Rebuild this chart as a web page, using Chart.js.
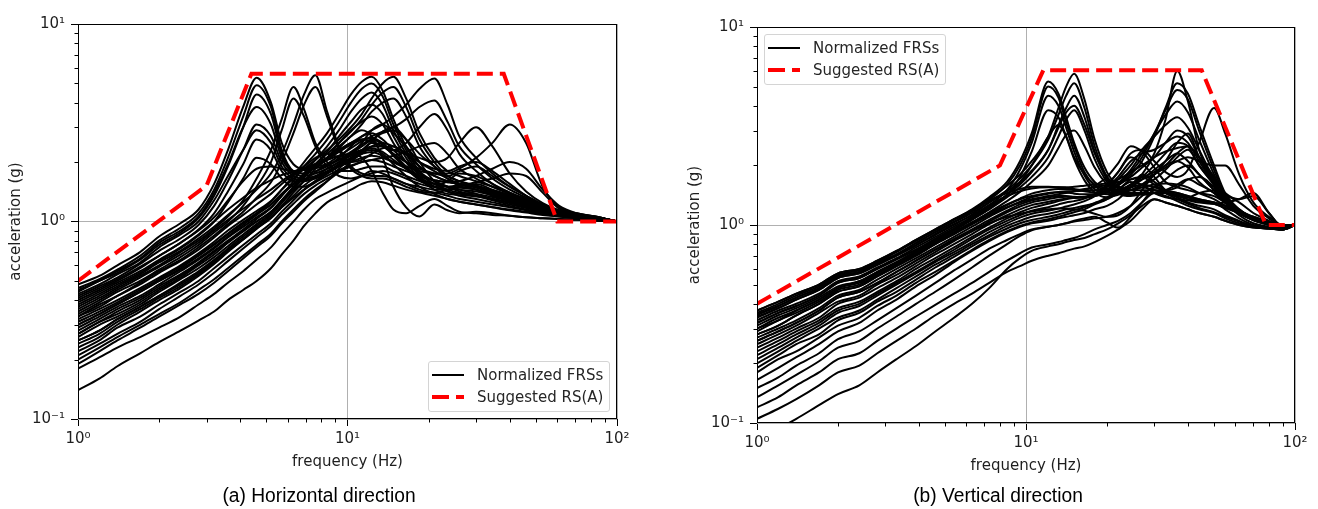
<!DOCTYPE html>
<html>
<head>
<meta charset="utf-8">
<script src="https://cdn.jsdelivr.net/npm/chart.js@4.4.1/dist/chart.umd.min.js"></script>
<style>
  body { margin: 0; background: #fff; width: 1318px; height: 509px; overflow: hidden; position: relative; font-family: "DejaVu Sans", sans-serif; }
  .panel { position: absolute; top: 0; height: 509px; }
  #panelA { left: 0; width: 660px; }
  #panelB { left: 660px; width: 658px; }
  .caption { position: absolute; top: 484px; font-family: "Liberation Sans", Arial, sans-serif; font-size: 20px; line-height: 22px; color: #000; white-space: nowrap; transform: translateX(-50%) scaleX(0.96); }
  .legend { position: absolute; box-sizing: border-box; border: 1px solid #d4d4d4; border-radius: 3px; background: rgba(255,255,255,0.85); width: 182px; height: 51px; }
  .legend .row { position: absolute; left: 3px; height: 18px; display: flex; align-items: center; font-size: 15px; color: #262626; white-space: nowrap; }
  .legend .row span { margin-left: 13px; }
</style>
</head>
<body>
<div class="panel" id="panelA"><canvas id="chartH" width="660" height="509"></canvas></div>
<div class="panel" id="panelB"><canvas id="chartV" width="658" height="509"></canvas></div>

<div class="legend" style="left:428px;top:361px;">
  <div class="row" style="top:4px;"><svg width="32" height="18"><line x1="0" y1="9" x2="32" y2="9" stroke="#000" stroke-width="2"/></svg><span>Normalized FRSs</span></div>
  <div class="row" style="top:26px;"><svg width="32" height="18"><line x1="0" y1="9" x2="32" y2="9" stroke="#ff0000" stroke-width="4" stroke-dasharray="17 7"/></svg><span>Suggested RS(A)</span></div>
</div>
<div class="legend" style="left:764px;top:34px;">
  <div class="row" style="top:4px;"><svg width="32" height="18"><line x1="0" y1="9" x2="32" y2="9" stroke="#000" stroke-width="2"/></svg><span>Normalized FRSs</span></div>
  <div class="row" style="top:26px;"><svg width="32" height="18"><line x1="0" y1="9" x2="32" y2="9" stroke="#ff0000" stroke-width="4" stroke-dasharray="17 7"/></svg><span>Suggested RS(A)</span></div>
</div>

<div class="caption" style="left:319px;">(a) Horizontal direction</div>
<div class="caption" style="left:998px;">(b) Vertical direction</div>

<script>
// ---- axis ticks ----
const X_TICKS = [1, 10, 100];
const X_TICK_LABELS = ['10\u2070', '10\u00b9', '10\u00b2'];
const Y_TICKS = [0.1, 1, 10];
const Y_TICK_LABELS = ['10\u207b\u00b9', '10\u2070', '10\u00b9'];
const X_MINOR = [2, 3, 4, 5, 6, 7, 8, 9, 20, 30, 40, 50, 60, 70, 80, 90];
const Y_MINOR = [0.2, 0.3, 0.4, 0.5, 0.6, 0.7, 0.8, 0.9, 2, 3, 4, 5, 6, 7, 8, 9];

// ---- (a) horizontal direction ----
const FREQ_H = [1, 1.2, 1.4, 1.7, 2, 2.4, 2.8, 3.2, 3.6, 4.1,
  4.6, 5.2, 5.7, 6.3, 6.9, 7.6, 8.4, 9.3, 10.3, 11.3,
  12.3, 13.5, 14.8, 16.5, 18.5, 21, 23.5, 26, 30, 34.5,
  40, 46, 53, 61, 71, 83, 100];

const FRS_H = [
  [0.48,0.53,0.60,0.70,0.84,0.98,1.15,1.55,2.30,3.80, 5.35,4.00,2.50,1.95,1.85,1.90,1.95,2.05,2.20,2.30, 2.35,2.25,2.05,1.85,1.65,1.55,1.50,1.45,1.38,1.30, 1.25,1.20,1.14,1.10,1.07,1.05,1.00],
  [0.46,0.51,0.57,0.67,0.80,0.93,1.10,1.45,2.10,3.40, 4.90,3.80,2.30,1.80,1.75,1.80,1.90,2.10,2.40,2.70, 2.80,2.60,2.30,2.00,1.75,1.60,1.50,1.42,1.35,1.28, 1.22,1.17,1.12,1.08,1.06,1.04,1.00],
  [0.44,0.50,0.55,0.64,0.76,0.88,1.04,1.35,1.90,3.00, 4.40,3.50,2.20,1.75,1.70,1.75,1.85,2.00,2.20,2.40, 2.60,2.80,2.90,2.60,2.20,1.90,1.70,1.60,1.50,1.40, 1.30,1.22,1.15,1.10,1.07,1.05,1.00],
  [0.42,0.47,0.52,0.61,0.71,0.82,0.96,1.20,1.60,2.30, 3.10,2.70,2.00,1.70,1.65,1.70,1.80,1.95,2.10,2.30, 2.50,2.40,2.20,2.00,1.85,1.75,1.70,1.80,1.90,1.70, 1.50,1.35,1.22,1.12,1.08,1.05,1.00],
  [0.40,0.45,0.50,0.58,0.67,0.78,0.91,1.10,1.42,1.95, 2.60,2.30,1.80,1.60,1.60,1.65,1.75,1.90,2.05,2.20, 2.40,2.50,2.40,2.20,2.00,1.85,1.80,1.90,2.00,1.80, 1.55,1.35,1.20,1.10,1.07,1.05,1.00],
  [0.38,0.43,0.48,0.55,0.63,0.73,0.85,1.00,1.25,1.65, 2.10,1.95,1.65,1.50,1.50,1.60,1.75,1.95,2.20,2.50, 2.90,3.10,2.80,2.40,2.00,1.80,1.65,1.55,1.45,1.35, 1.28,1.20,1.14,1.09,1.06,1.04,1.00],
  [0.36,0.41,0.46,0.53,0.60,0.70,0.80,0.92,1.06,1.28, 1.65,2.30,3.30,4.80,3.70,2.50,2.00,1.80,1.80,1.85, 1.90,1.90,1.80,1.70,1.60,1.50,1.45,1.50,1.55,1.45, 1.35,1.25,1.16,1.10,1.07,1.05,1.00],
  [0.34,0.39,0.44,0.50,0.57,0.66,0.76,0.88,1.00,1.20, 1.50,2.00,2.90,4.20,3.40,2.40,1.90,1.70,1.65,1.70, 1.75,1.80,1.75,1.65,1.55,1.50,1.60,1.75,1.70,1.55, 1.40,1.28,1.18,1.11,1.07,1.05,1.00],
  [0.37,0.42,0.47,0.54,0.62,0.71,0.82,0.94,1.08,1.25, 1.45,1.75,2.20,3.10,4.40,5.50,3.60,2.40,1.90,1.75, 1.70,1.70,1.65,1.55,1.50,1.45,1.45,1.50,1.45,1.38, 1.30,1.22,1.15,1.10,1.07,1.05,1.00],
  [0.33,0.38,0.42,0.49,0.56,0.64,0.74,0.85,0.97,1.12, 1.32,1.58,2.00,2.80,3.90,4.80,3.40,2.30,1.85,1.70, 1.65,1.65,1.60,1.50,1.42,1.40,1.45,1.55,1.50,1.40, 1.32,1.24,1.16,1.10,1.07,1.05,1.00],
  [0.30,0.34,0.38,0.44,0.50,0.58,0.67,0.76,0.86,0.98, 1.10,1.26,1.45,1.70,2.00,2.35,2.80,3.50,4.40,5.10, 5.40,4.60,3.30,2.40,1.90,1.70,1.60,1.55,1.50,1.40, 1.32,1.24,1.16,1.10,1.07,1.05,1.00],
  [0.28,0.32,0.36,0.41,0.47,0.54,0.62,0.71,0.80,0.91, 1.03,1.17,1.35,1.60,1.90,2.20,2.60,3.20,4.00,4.70, 5.00,4.30,3.10,2.30,1.80,1.60,1.50,1.45,1.42,1.36, 1.30,1.22,1.15,1.10,1.07,1.05,1.00],
  [0.26,0.30,0.33,0.38,0.44,0.51,0.58,0.66,0.75,0.86, 0.97,1.10,1.28,1.50,1.75,2.05,2.40,2.90,3.60,4.20, 4.50,3.90,2.90,2.20,1.75,1.55,1.45,1.40,1.38,1.33, 1.27,1.20,1.14,1.09,1.06,1.04,1.00],
  [0.25,0.28,0.32,0.37,0.42,0.49,0.56,0.64,0.73,0.84, 0.95,1.08,1.24,1.45,1.68,1.95,2.25,2.70,3.20,3.70, 3.90,3.50,2.70,2.10,1.70,1.50,1.42,1.38,1.35,1.30, 1.25,1.18,1.13,1.09,1.06,1.04,1.00],
  [0.23,0.26,0.30,0.35,0.40,0.46,0.53,0.61,0.70,0.81, 0.92,1.05,1.20,1.40,1.60,1.85,2.10,2.50,2.90,3.20, 3.40,3.10,2.50,2.00,1.65,1.45,1.38,1.36,1.34,1.30, 1.24,1.18,1.13,1.09,1.06,1.04,1.00],
  [0.32,0.36,0.40,0.46,0.52,0.60,0.69,0.79,0.90,1.02, 1.13,1.27,1.45,1.65,1.85,2.05,2.30,2.60,3.00,3.50, 4.20,5.00,5.40,4.20,2.80,2.10,1.80,1.70,1.60,1.50, 1.40,1.30,1.20,1.12,1.08,1.05,1.00],
  [0.29,0.33,0.37,0.42,0.48,0.56,0.64,0.73,0.83,0.94, 1.05,1.18,1.35,1.55,1.75,1.95,2.20,2.50,2.85,3.30, 3.90,4.50,4.80,3.80,2.60,2.00,1.70,1.60,1.52,1.44, 1.36,1.27,1.18,1.11,1.07,1.05,1.00],
  [0.27,0.31,0.34,0.39,0.45,0.52,0.60,0.68,0.78,0.89, 1.00,1.12,1.28,1.48,1.68,1.90,2.10,2.40,2.70,3.10, 3.60,4.00,4.20,3.40,2.40,1.90,1.65,1.55,1.48,1.40, 1.32,1.24,1.16,1.10,1.07,1.05,1.00],
  [0.31,0.35,0.39,0.45,0.51,0.59,0.68,0.77,0.87,0.99, 1.10,1.22,1.38,1.55,1.72,1.90,2.10,2.30,2.50,2.70, 2.90,3.10,3.40,3.90,4.70,5.30,3.90,2.70,2.10,1.75, 1.50,1.35,1.22,1.13,1.08,1.05,1.00],
  [0.27,0.31,0.35,0.40,0.46,0.53,0.61,0.70,0.79,0.90, 1.00,1.12,1.27,1.43,1.60,1.78,1.95,2.15,2.35,2.55, 2.70,2.85,3.00,3.30,3.80,4.10,3.20,2.40,1.95,1.65, 1.45,1.32,1.20,1.12,1.08,1.05,1.00],
  [0.24,0.27,0.31,0.36,0.41,0.47,0.54,0.62,0.71,0.81, 0.92,1.04,1.18,1.35,1.52,1.68,1.85,2.00,2.15,2.30, 2.40,2.40,2.30,2.20,2.10,2.00,2.10,2.50,3.00,2.40, 1.75,1.42,1.24,1.14,1.09,1.06,1.00],
  [0.22,0.25,0.29,0.33,0.38,0.44,0.50,0.58,0.66,0.76, 0.86,0.98,1.12,1.28,1.45,1.60,1.75,1.90,2.00,2.10, 2.15,2.10,2.00,1.90,1.80,1.75,1.75,1.85,2.10,2.50, 3.10,2.50,1.50,1.18,1.10,1.06,1.00],
  [0.21,0.24,0.27,0.31,0.36,0.42,0.48,0.55,0.63,0.73, 0.83,0.95,1.08,1.23,1.38,1.52,1.65,1.78,1.90,2.00, 2.05,2.00,1.90,1.80,1.70,1.62,1.58,1.60,1.70,1.85, 2.00,1.85,1.45,1.20,1.10,1.06,1.00],
  [0.35,0.40,0.45,0.52,0.59,0.68,0.78,0.90,1.02,1.16, 1.30,1.45,1.60,1.75,1.85,1.95,2.10,2.35,2.70,2.90, 2.70,2.10,1.50,1.18,1.06,1.22,1.14,1.10,1.12,1.10, 1.07,1.05,1.04,1.03,1.02,1.01,1.00],
  [0.33,0.37,0.42,0.48,0.55,0.63,0.72,0.83,0.95,1.08, 1.22,1.38,1.55,1.72,1.85,1.95,2.05,2.15,2.20,2.10, 1.80,1.40,1.15,1.10,1.20,1.30,1.20,1.12,1.10,1.08, 1.07,1.05,1.04,1.03,1.02,1.01,1.00],
  [0.14,0.16,0.185,0.215,0.245,0.28,0.315,0.35,0.40,0.45, 0.50,0.58,0.68,0.80,0.95,1.10,1.25,1.35,1.45,1.55, 1.60,1.58,1.52,1.45,1.40,1.35,1.30,1.26,1.22,1.18, 1.15,1.12,1.09,1.06,1.04,1.03,1.00],
  [0.18,0.205,0.23,0.26,0.29,0.33,0.38,0.43,0.49,0.56, 0.64,0.74,0.86,1.00,1.15,1.30,1.40,1.50,1.60,1.70, 1.80,1.75,1.65,1.55,1.45,1.40,1.35,1.30,1.26,1.22, 1.18,1.14,1.10,1.07,1.05,1.03,1.00],
  [0.20,0.23,0.26,0.30,0.34,0.39,0.45,0.51,0.58,0.67, 0.76,0.87,1.00,1.15,1.30,1.45,1.60,1.78,2.00,2.25, 2.55,2.85,3.00,2.60,2.00,1.60,1.42,1.35,1.30,1.25, 1.20,1.15,1.11,1.07,1.05,1.03,1.00],
  [0.19,0.22,0.25,0.29,0.33,0.38,0.43,0.49,0.56,0.65, 0.74,0.85,0.98,1.12,1.27,1.42,1.60,1.85,2.10,2.25, 2.30,2.20,1.95,1.70,1.50,1.38,1.30,1.26,1.22,1.18, 1.14,1.11,1.08,1.06,1.04,1.03,1.00],
  [0.45,0.50,0.56,0.65,0.78,0.90,1.06,1.40,1.95,3.00, 3.80,3.10,2.10,1.80,1.90,2.10,2.20,2.10,2.00,2.05, 2.20,2.35,2.40,2.20,1.90,1.70,1.60,1.55,1.50,1.42, 1.35,1.27,1.19,1.12,1.08,1.05,1.00],
  [0.41,0.46,0.51,0.59,0.67,0.78,0.90,1.05,1.28,1.60, 1.85,1.90,1.85,1.80,1.85,1.95,2.10,2.30,2.50,2.60, 2.55,2.40,2.30,2.50,3.00,3.50,2.90,2.20,1.80,1.55, 1.38,1.27,1.18,1.11,1.07,1.05,1.00],
  [0.30,0.34,0.38,0.44,0.50,0.57,0.65,0.74,0.84,0.96, 1.08,1.22,1.38,1.55,1.72,1.88,2.05,2.25,2.45,2.60, 2.65,2.50,2.20,1.90,1.65,1.55,1.50,1.52,1.58,1.65, 1.75,1.70,1.40,1.16,1.08,1.05,1.00],
  [0.43,0.48,0.54,0.62,0.74,0.86,1.00,1.28,1.70,2.30, 2.90,2.50,1.90,1.65,1.62,1.68,1.78,1.92,2.08,2.20, 2.25,2.15,2.00,1.85,1.70,1.62,1.58,1.55,1.50,1.42, 1.34,1.26,1.18,1.11,1.07,1.05,1.00],
  [0.39,0.44,0.49,0.56,0.64,0.74,0.86,1.00,1.15,1.32, 1.48,1.62,1.72,1.78,1.82,1.86,1.92,2.05,2.25,2.45, 2.60,2.45,2.15,1.85,1.62,1.50,1.45,1.48,1.45,1.38, 1.30,1.22,1.15,1.10,1.07,1.05,1.00],
  [0.25,0.28,0.32,0.37,0.42,0.48,0.55,0.63,0.72,0.82, 0.93,1.05,1.18,1.32,1.45,1.58,1.70,1.82,1.92,2.00, 2.05,2.10,2.15,2.25,2.40,2.50,2.20,1.85,1.65,1.50, 1.38,1.28,1.19,1.12,1.08,1.05,1.00]
];
const RS_H_FREQ = [1, 3, 4.4, 38, 60, 100];
const RS_H_ACC = [0.5, 1.52, 5.6, 5.6, 1.0, 1.0];

// ---- (b) vertical direction ----
const FREQ_V = [1, 1.2, 1.4, 1.7, 2, 2.4, 2.8, 3.3, 3.9, 4.6,
  5.4, 6.3, 7.3, 8.5, 9.5, 10.5, 12.1, 13.2, 14.1, 15.1,
  16.5, 18, 20, 22, 24.5, 27, 30, 33, 36.5, 40,
  44, 50, 55, 62, 70, 80, 90, 100];

const FRS_V = [
  [0.37,0.41,0.45,0.50,0.57,0.60,0.66,0.74,0.84,0.95, 1.07,1.20,1.38,1.65,2.10,2.90,5.30,4.60,3.50,2.60, 1.95,1.65,1.52,1.50,1.55,1.60,1.55,1.50,1.45,1.40, 1.35,1.30,1.25,1.18,1.10,1.04,1.00,1.00],
  [0.35,0.39,0.43,0.48,0.55,0.58,0.64,0.71,0.81,0.92, 1.04,1.17,1.34,1.60,2.00,2.75,5.00,4.40,3.30,2.50, 1.85,1.58,1.46,1.45,1.50,1.55,1.50,1.45,1.42,1.38, 1.33,1.28,1.22,1.15,1.08,1.03,0.98,1.00],
  [0.33,0.37,0.40,0.45,0.52,0.55,0.61,0.68,0.77,0.87, 0.98,1.10,1.26,1.50,1.90,2.60,4.50,4.00,3.10,2.35, 1.78,1.52,1.43,1.45,1.55,1.70,1.90,2.10,2.30,2.10, 1.80,1.50,1.30,1.15,1.07,1.02,0.98,1.00],
  [0.31,0.35,0.38,0.43,0.49,0.52,0.58,0.65,0.73,0.83, 0.94,1.06,1.21,1.42,1.75,2.35,3.80,3.50,2.80,2.15, 1.68,1.46,1.38,1.42,1.50,1.60,1.70,1.90,2.20,2.40, 2.00,1.60,1.35,1.18,1.08,1.02,0.97,1.00],
  [0.36,0.40,0.44,0.49,0.56,0.59,0.65,0.73,0.83,0.94, 1.06,1.19,1.36,1.58,1.80,2.10,2.80,3.90,5.00,5.80, 4.30,2.70,1.85,1.58,1.50,1.50,1.50,1.48,1.45,1.40, 1.35,1.30,1.25,1.18,1.10,1.04,1.00,1.00],
  [0.34,0.38,0.42,0.47,0.54,0.57,0.63,0.70,0.79,0.89, 1.00,1.13,1.30,1.50,1.72,2.00,2.70,3.60,4.50,5.20, 3.90,2.50,1.75,1.52,1.45,1.45,1.45,1.45,1.42,1.38, 1.32,1.28,1.22,1.15,1.08,1.03,0.99,1.00],
  [0.32,0.36,0.39,0.44,0.51,0.54,0.60,0.67,0.75,0.85, 0.96,1.08,1.23,1.42,1.60,1.85,2.40,3.20,3.90,4.50, 3.50,2.35,1.70,1.48,1.42,1.42,1.45,1.50,1.60,1.70, 1.60,1.45,1.30,1.17,1.08,1.03,0.98,1.00],
  [0.30,0.34,0.37,0.42,0.48,0.52,0.58,0.65,0.74,0.84, 0.95,1.07,1.20,1.38,1.55,1.75,2.20,2.80,3.40,3.80, 3.00,2.15,1.65,1.45,1.40,1.45,1.55,1.70,1.90,2.00, 1.80,1.50,1.30,1.15,1.07,1.02,0.97,1.00],
  [0.29,0.33,0.36,0.41,0.47,0.50,0.56,0.63,0.71,0.81, 0.92,1.03,1.16,1.32,1.47,1.65,2.00,2.45,2.85,3.00, 2.50,1.95,1.60,1.45,1.45,1.60,1.80,2.10,2.60,2.90, 2.20,1.60,1.30,1.14,1.06,1.01,0.97,1.00],
  [0.28,0.31,0.35,0.40,0.46,0.49,0.55,0.62,0.70,0.80, 0.90,1.01,1.13,1.26,1.36,1.44,1.50,1.52,1.52,1.50, 1.48,1.46,1.46,1.50,1.60,1.80,2.30,3.40,6.00,4.20, 2.40,1.60,1.30,1.15,1.06,1.01,0.97,1.00],
  [0.27,0.30,0.33,0.38,0.44,0.47,0.53,0.60,0.68,0.77, 0.87,0.98,1.10,1.22,1.31,1.38,1.44,1.46,1.46,1.44, 1.43,1.43,1.47,1.58,1.80,2.10,2.80,3.90,5.20,4.60, 3.20,2.00,1.45,1.20,1.08,1.02,0.97,1.00],
  [0.26,0.29,0.32,0.37,0.43,0.46,0.51,0.58,0.66,0.75, 0.85,0.95,1.06,1.18,1.27,1.33,1.38,1.40,1.40,1.39, 1.38,1.40,1.46,1.60,1.85,2.20,2.90,3.80,4.80,4.30, 3.00,1.90,1.40,1.18,1.07,1.01,0.96,1.00],
  [0.25,0.28,0.31,0.36,0.41,0.44,0.50,0.56,0.64,0.73, 0.83,0.93,1.04,1.16,1.24,1.30,1.35,1.38,1.39,1.38, 1.38,1.40,1.47,1.62,1.90,2.30,2.90,3.60,4.20,3.70, 2.70,1.80,1.38,1.17,1.07,1.01,0.96,1.00],
  [0.24,0.27,0.30,0.34,0.40,0.43,0.48,0.54,0.62,0.71, 0.80,0.90,1.01,1.12,1.20,1.26,1.31,1.34,1.36,1.37, 1.38,1.41,1.50,1.70,2.00,2.40,2.80,3.20,3.50,3.10, 2.40,1.70,1.35,1.16,1.06,1.00,0.96,1.00],
  [0.23,0.26,0.29,0.33,0.38,0.41,0.46,0.52,0.60,0.68, 0.77,0.87,0.97,1.08,1.16,1.22,1.28,1.32,1.35,1.37, 1.39,1.43,1.55,1.75,2.10,2.30,2.40,2.60,2.80,2.60, 2.10,1.60,1.32,1.15,1.06,1.00,0.96,1.00],
  [0.22,0.25,0.28,0.32,0.37,0.40,0.45,0.51,0.58,0.66, 0.75,0.85,0.95,1.05,1.12,1.18,1.23,1.27,1.30,1.32, 1.36,1.43,1.60,1.85,2.30,2.40,2.10,1.85,1.75,1.90, 2.60,3.90,2.90,1.80,1.30,1.10,1.00,1.00],
  [0.21,0.24,0.27,0.31,0.36,0.39,0.44,0.50,0.57,0.65, 0.73,0.82,0.92,1.02,1.09,1.14,1.18,1.21,1.24,1.27, 1.32,1.40,1.58,1.85,2.20,2.05,1.75,1.50,1.40,1.38, 1.45,1.50,1.42,1.30,1.15,1.05,0.98,1.00],
  [0.20,0.23,0.26,0.30,0.34,0.37,0.42,0.48,0.55,0.63, 0.71,0.80,0.89,0.99,1.05,1.10,1.14,1.17,1.20,1.22, 1.25,1.29,1.35,1.45,1.60,1.70,1.80,1.95,2.10,2.20, 2.10,2.00,2.00,1.60,1.25,1.08,0.98,1.00],
  [0.19,0.22,0.25,0.28,0.33,0.36,0.41,0.46,0.53,0.61, 0.69,0.78,0.87,0.96,1.02,1.06,1.10,1.13,1.16,1.19, 1.23,1.29,1.38,1.50,1.65,1.60,1.45,1.38,1.35,1.33, 1.30,1.28,1.30,1.35,1.45,1.15,0.98,1.00],
  [0.18,0.21,0.23,0.27,0.31,0.34,0.39,0.44,0.51,0.58, 0.66,0.75,0.84,0.93,0.99,1.03,1.07,1.10,1.13,1.16, 1.20,1.27,1.35,1.50,1.70,1.75,1.60,1.50,1.55,1.70, 1.75,1.55,1.30,1.12,1.02,0.98,0.95,1.00],
  [0.165,0.19,0.215,0.25,0.29,0.32,0.37,0.42,0.49,0.56, 0.65,0.74,0.83,0.92,0.98,1.02,1.05,1.08,1.10,1.12, 1.15,1.20,1.25,1.35,1.55,1.80,1.65,1.50,1.40,1.35, 1.32,1.30,1.20,1.08,1.00,0.97,0.95,1.00],
  [0.15,0.17,0.195,0.225,0.265,0.29,0.33,0.38,0.44,0.51, 0.59,0.67,0.76,0.84,0.90,0.95,0.98,1.00,1.02,1.05, 1.08,1.10,1.03,0.97,1.10,1.30,1.50,1.45,1.38,1.30, 1.25,1.20,1.12,1.05,0.98,0.96,0.95,1.00],
  [0.135,0.155,0.175,0.205,0.24,0.26,0.30,0.345,0.40,0.46, 0.53,0.61,0.70,0.80,0.88,0.94,0.98,1.00,1.02,1.04, 1.06,1.08,1.10,1.15,1.25,1.40,1.55,1.45,1.35,1.28, 1.22,1.16,1.10,1.04,0.99,0.97,0.96,1.00],
  [0.12,0.135,0.155,0.18,0.21,0.225,0.26,0.30,0.345,0.395, 0.45,0.51,0.58,0.66,0.72,0.77,0.80,0.82,0.84,0.86, 0.90,0.95,1.00,1.05,1.15,1.30,1.45,1.40,1.32,1.25, 1.20,1.15,1.08,1.02,0.98,0.96,0.95,1.00],
  [0.105,0.118,0.132,0.155,0.18,0.195,0.225,0.26,0.30,0.35, 0.40,0.45,0.51,0.58,0.62,0.66,0.70,0.72,0.74,0.76, 0.78,0.82,0.88,0.95,1.05,1.20,1.35,1.30,1.25,1.20, 1.15,1.10,1.05,1.00,0.97,0.96,0.95,1.00],
  [0.085,0.094,0.105,0.123,0.14,0.155,0.18,0.21,0.245,0.29, 0.34,0.40,0.48,0.60,0.68,0.74,0.78,0.80,0.82,0.84, 0.86,0.90,0.95,1.02,1.12,1.25,1.35,1.30,1.25,1.20, 1.15,1.10,1.05,1.00,0.97,0.96,0.95,1.00],
  [0.37,0.41,0.45,0.50,0.57,0.60,0.66,0.74,0.84,0.95, 1.07,1.19,1.33,1.45,1.52,1.56,1.56,1.55,1.55,1.56, 1.58,1.60,1.62,1.65,1.70,1.75,1.85,2.00,2.30,2.50, 2.20,1.75,1.40,1.20,1.08,1.02,0.98,1.00],
  [0.32,0.36,0.39,0.44,0.51,0.54,0.60,0.67,0.75,0.85, 0.96,1.08,1.23,1.42,1.65,2.00,2.80,3.20,2.80,2.20, 1.80,1.60,1.50,1.50,1.60,1.75,2.00,2.30,2.60,2.50, 2.00,1.60,1.35,1.18,1.08,1.02,0.97,1.00],
  [0.28,0.31,0.35,0.40,0.46,0.49,0.55,0.62,0.70,0.80, 0.90,1.01,1.12,1.23,1.30,1.35,1.40,1.43,1.45,1.48, 1.52,1.55,1.60,1.70,1.85,2.00,2.20,2.35,2.45,2.50, 2.20,1.70,1.45,1.35,1.40,1.15,0.98,1.00],
  [0.26,0.29,0.32,0.37,0.43,0.46,0.51,0.58,0.66,0.75, 0.84,0.93,1.02,1.10,1.14,1.17,1.20,1.21,1.21,1.20, 1.18,1.14,1.10,1.12,1.25,1.50,1.80,2.00,2.10,1.95, 1.65,1.45,1.30,1.18,1.08,1.02,0.97,1.00],
  [0.355,0.39,0.43,0.48,0.55,0.58,0.64,0.71,0.81,0.92, 1.03,1.15,1.30,1.48,1.65,1.88,2.40,3.10,3.70,4.00, 3.20,2.30,1.75,1.55,1.50,1.55,1.60,1.62,1.60,1.55, 1.45,1.35,1.25,1.15,1.08,1.03,0.98,1.00],
  [0.345,0.38,0.42,0.47,0.54,0.57,0.63,0.70,0.79,0.90, 1.01,1.12,1.26,1.40,1.48,1.53,1.55,1.55,1.54,1.52, 1.50,1.50,1.52,1.60,1.75,1.95,2.20,2.60,3.00,2.80, 2.20,1.65,1.35,1.18,1.08,1.02,0.97,1.00],
  [0.30,0.33,0.37,0.42,0.48,0.51,0.57,0.64,0.72,0.82, 0.92,1.03,1.15,1.27,1.35,1.40,1.45,1.47,1.48,1.48, 1.50,1.58,1.75,2.05,2.50,2.35,1.95,1.65,1.55,1.50, 1.45,1.40,1.30,1.18,1.08,1.02,0.97,1.00]
];
const RS_V_FREQ = [1, 8, 11.6, 45, 78, 100];
const RS_V_ACC = [0.4, 2.0, 6.05, 6.05, 1.0, 1.0];

// ---- helpers ----
const FONT = { family: 'DejaVu Sans', size: 15 };
const TEXT = '#1e1e1e';

function frsSets(freq, rows) {
  return rows.map(function (r) {
    if (r.length !== freq.length) console.warn('length mismatch', r.length, freq.length);
    return {
      data: r.map((v, i) => ({ x: freq[i], y: v })),
      borderColor: '#000',
      borderWidth: 2,
      pointRadius: 0,
      cubicInterpolationMode: 'monotone',
      order: 1
    };
  });
}

function rsSet(freq, acc) {
  return {
    data: acc.map((v, i) => ({ x: freq[i], y: v })),
    borderColor: '#ff0000',
    borderWidth: 4,
    borderDash: [16, 7],
    pointRadius: 0,
    tension: 0,
    order: 0
  };
}

// box frame and minor ticks, drawn through the scales
const framePlugin = {
  id: 'frame',
  afterDatasetsDraw(chart) {
    const { ctx, chartArea: a, scales } = chart;
    ctx.save();
    ctx.strokeStyle = '#000';
    ctx.lineWidth = 1;
    ctx.strokeRect(Math.round(a.left) + 0.5, Math.round(a.top) + 0.5,
      Math.round(a.right - a.left) - 1, Math.round(a.bottom - a.top) - 1);
    ctx.beginPath();
    X_MINOR.forEach(v => {
      const px = Math.round(scales.x.getPixelForValue(v)) + 0.5;
      ctx.moveTo(px, a.bottom); ctx.lineTo(px, a.bottom + 3.5);
    });
    Y_MINOR.forEach(v => {
      const py = Math.round(scales.y.getPixelForValue(v)) + 0.5;
      ctx.moveTo(a.left - 3.5, py); ctx.lineTo(a.left, py);
    });
    ctx.stroke();
    ctx.restore();
  }
};

function makeChart(id, datasets, geo) {
  return new Chart(document.getElementById(id), {
    type: 'line',
    data: { datasets: datasets },
    plugins: [framePlugin],
    options: {
      responsive: false,
      animation: false,
      events: [],
      layout: { padding: { left: 0, top: geo.top, right: geo.right, bottom: geo.bottom } },
      plugins: { legend: { display: false }, tooltip: { enabled: false } },
      scales: {
        x: {
          type: 'logarithmic', min: 1, max: 100,
          afterBuildTicks: s => { s.ticks = X_TICKS.map(v => ({ value: v })); },
          afterFit: s => { s.height = 60; s.paddingLeft = 0; s.paddingRight = 0; },
          ticks: { callback: v => X_TICK_LABELS[X_TICKS.indexOf(v)], font: FONT, color: TEXT, padding: 4, maxRotation: 0, autoSkip: false },
          grid: { color: '#b0b0b0', lineWidth: 1, tickLength: 7, tickColor: '#000' },
          border: { display: false },
          title: { display: true, text: 'frequency (Hz)', font: FONT, color: TEXT, padding: { top: 0, bottom: 8 } }
        },
        y: {
          type: 'logarithmic', min: 0.1, max: 10,
          afterBuildTicks: s => { s.ticks = Y_TICKS.map(v => ({ value: v })); },
          afterFit: s => { s.width = geo.left; s.paddingTop = 0; s.paddingBottom = 0; },
          ticks: { callback: v => Y_TICK_LABELS[Y_TICKS.indexOf(v)], font: FONT, color: TEXT, padding: 6, autoSkip: false },
          grid: { color: '#b0b0b0', lineWidth: 1, tickLength: 7, tickColor: '#000' },
          border: { display: false },
          title: { display: true, text: 'acceleration (g)', font: FONT, color: TEXT, padding: { top: geo.yTitle, bottom: 0 } }
        }
      }
    }
  });
}

makeChart('chartH', [rsSet(RS_H_FREQ, RS_H_ACC)].concat(frsSets(FREQ_H, FRS_H)),
  { left: 78, top: 24, right: 43, bottom: 30, yTitle: 7 });
makeChart('chartV', [rsSet(RS_V_FREQ, RS_V_ACC)].concat(frsSets(FREQ_V, FRS_V)),
  { left: 97, top: 27, right: 23, bottom: 26, yTitle: 26.5 });
</script>
</body>
</html>
